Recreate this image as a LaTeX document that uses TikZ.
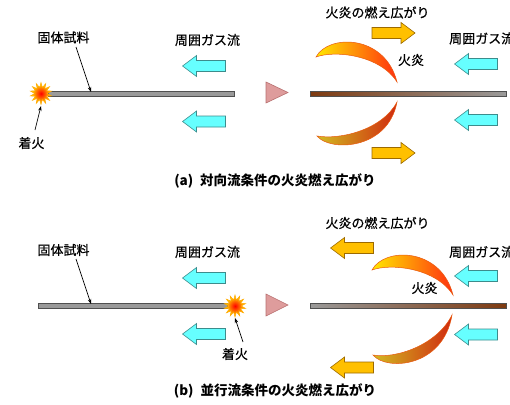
\documentclass[tikz,border=0pt]{standalone}
\usepackage{fontspec}
\newfontfamily\jpfont{Noto Sans CJK JP}[FakeBold=0.6]
\newfontfamily\jpcapfont{Noto Sans CJK JP}
\usetikzlibrary{arrows.meta,shapes.geometric}

\definecolor{gascyan}{HTML}{66FFFF}
\definecolor{gasedge}{HTML}{3C8C8C}
\definecolor{spreadfill}{HTML}{FFC000}
\definecolor{spreadedge}{HTML}{9C6A00}
\definecolor{rodgray}{HTML}{9A9A9A}
\definecolor{rodedge}{HTML}{505050}
\definecolor{charbrown}{HTML}{7E3A10}
\definecolor{wedgepink}{HTML}{DE9C9C}
\definecolor{wedgeedge}{HTML}{B87070}
\definecolor{flameyellow}{HTML}{FFE800}
\definecolor{flameorange}{HTML}{FF9800}
\definecolor{flamered}{HTML}{FF3010}
\definecolor{flameolive}{HTML}{D2BA20}
\definecolor{flamedark}{HTML}{D02A10}
\definecolor{flameedge}{HTML}{E85A10}

\tikzset{
  lbl/.style={font=\jpfont\fontsize{13}{15}\selectfont, inner sep=0pt},
  caption/.style={font=\jpcapfont\bfseries\fontsize{13.5}{16}\selectfont, inner sep=0pt},
  pointer/.style={-{Stealth[length=5pt,width=3.5pt]}, line width=0.7pt},
  gas/.style={fill=gascyan, draw=gasedge, line width=0.6pt},
  spread/.style={fill=spreadfill, draw=spreadedge, line width=0.6pt},
  % block arrow pointing to the left, centred on the pic origin
  pics/flowarrow/.style={code={
    \filldraw[#1] (-21.5,0) -- (-7.5,10.5) -- (-7.5,5.5) -- (21.5,5.5)
      -- (21.5,-5.5) -- (-7.5,-5.5) -- (-7.5,-10.5) -- cycle;}},
  rod/.style={fill=rodgray, draw=rodedge, line width=0.6pt},
  ignition/.style={star, star points=14, star point ratio=1.8, minimum size=22pt,
    inner sep=0pt, inner color=red, outer color=yellow!90!orange,
    draw=orange!70!yellow, line width=0.5pt},
  wedge/.style={fill=wedgepink, draw=wedgeedge, line width=0.6pt},
  upperflame/.style={left color=flameyellow, middle color=flameorange,
    right color=flamered, draw=flameedge, line width=0.5pt},
  lowerflame/.style={left color=flameolive, middle color=flameorange!85!red,
    right color=flamedark, draw=flameedge, line width=0.5pt},
}

\begin{document}
\begin{tikzpicture}[x=1pt, y=-1pt]
\useasboundingbox (0,0) rectangle (510,404);
\clip (0,0) rectangle (510,404);

% ---------------- (a) opposed flow ----------------
% sample before ignition
\draw[rod] (48,91) rectangle (234,96);
\node[ignition] (ignA) at (41,93.5) {};
\node[lbl] (sampleA) at (63.5,37.5) {固体試料};
\coordinate (sampleA-tail) at (76,47);
\coordinate (sampleA-tip) at (91,92);
\draw[pointer] (sampleA-tail) -- (sampleA-tip);
\node[lbl] (fireA) at (31.5,143) {着火};
\coordinate (fireA-tail) at (35,130);
\coordinate (fireA-tip) at (41,106);
\draw[pointer] (fireA-tail) -- (fireA-tip);
\node[lbl] (gasA) at (207.5,40) {周囲ガス流};
\pic at (204,66) {flowarrow=gas};
\pic at (204,121.5) {flowarrow=gas};

\draw[wedge] (266,82) -- (288,92.5) -- (266,103) -- cycle;

% burning sample
\shade[left color=charbrown, middle color=charbrown!85!rodgray, right color=rodgray]
  (310,91) rectangle (506,96);
\draw[rodedge, line width=0.6pt] (310,91) rectangle (506,96);
\shadedraw[upperflame] (316,57) .. controls (328,34) and (385,34) .. (397,82)
  .. controls (380,55) and (335,50) .. (316,57) -- cycle;
\shadedraw[lowerflame] (317,136) .. controls (330,152) and (388,150) .. (397,102)
  .. controls (382,130) and (340,140) .. (317,136) -- cycle;
\node[lbl] (flameA) at (411,60) {火炎};
\node[lbl] (spreadA) at (377.5,12.5) {火炎の燃え広がり};
\pic[xscale=-1] at (393.5,33) {flowarrow=spread};
\pic[xscale=-1] at (393.5,153) {flowarrow=spread};
\node[lbl, anchor=west] (gasA2) at (449,38.5) {周囲ガス流};
\pic at (476,64) {flowarrow=gas};
\pic at (476,120) {flowarrow=gas};

\node[caption] (capA) at (275,181) {(a)\hspace{7pt}対向流条件の火炎燃え広がり};

% ---------------- (b) concurrent flow ----------------
\draw[rod] (38,303.5) rectangle (227,308.5);
\node[ignition] (ignB) at (235,306) {};
\node[lbl] (sampleB) at (63.5,250) {固体試料};
\coordinate (sampleB-tail) at (76,259);
\coordinate (sampleB-tip) at (91,304);
\draw[pointer] (sampleB-tail) -- (sampleB-tip);
\node[lbl] (fireB) at (235,354) {着火};
\coordinate (fireB-tail) at (243,342);
\coordinate (fireB-tip) at (235,318);
\draw[pointer] (fireB-tail) -- (fireB-tip);
\node[lbl] (gasB) at (207.5,252) {周囲ガス流};
\pic at (204,278) {flowarrow=gas};
\pic at (204,334) {flowarrow=gas};

\draw[wedge] (266,294) -- (288,305) -- (266,316) -- cycle;

\shade[left color=rodgray, middle color=charbrown!85!rodgray, right color=charbrown]
  (310,303.5) rectangle (506,308.5);
\draw[rodedge, line width=0.6pt] (310,303.5) rectangle (506,308.5);
\shadedraw[upperflame] (372,270) .. controls (384,247) and (441,247) .. (453,295)
  .. controls (436,268) and (391,263) .. (372,270) -- cycle;
\shadedraw[lowerflame] (373,355) .. controls (386,371) and (443,368) .. (452,315)
  .. controls (437,345) and (396,359) .. (373,355) -- cycle;
\node[lbl] (flameB) at (424.5,288) {火炎};
\node[lbl] (spreadB) at (377.5,223) {火炎の燃え広がり};
\pic at (352,248) {flowarrow=spread};
\pic at (352,367.5) {flowarrow=spread};
\node[lbl, anchor=west] (gasB2) at (449,252) {周囲ガス流};
\pic at (476,276) {flowarrow=gas};
\pic at (476,334.5) {flowarrow=gas};

\node[caption] (capB) at (275,391) {(b)\hspace{7pt}並行流条件の火炎燃え広がり};
\end{tikzpicture}
\end{document}
